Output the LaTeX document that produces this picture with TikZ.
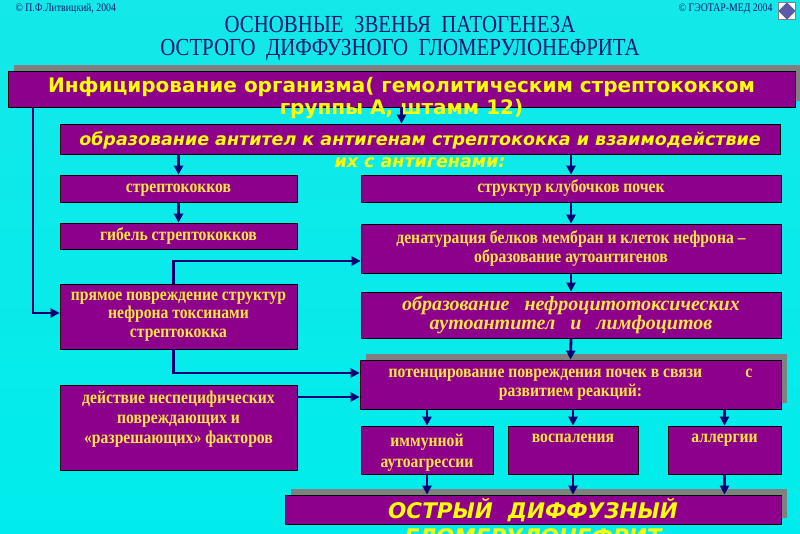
\documentclass[tikz,border=0pt]{standalone}
\usepackage{fontspec}
\setmainfont{Liberation Serif}
\newfontfamily\titlefont[FakeStretch=0.85]{Liberation Serif}
\newfontfamily\boxserif[FakeStretch=0.87]{Liberation Serif}
\newfontfamily\boxsans{DejaVu Sans}
\usetikzlibrary{arrows.meta,shadows}

\definecolor{boxpurple}{RGB}{140,0,140}
\definecolor{goldtext}{RGB}{255,228,70}
\definecolor{brightyellow}{RGB}{255,255,0}
\definecolor{titleblue}{RGB}{20,20,110}
\definecolor{arrownavy}{RGB}{0,0,115}
\definecolor{shadowgrey}{RGB}{128,128,128}
\definecolor{bgtop}{RGB}{20,232,232}
\definecolor{bgmid}{RGB}{195,244,252}
\definecolor{bgbot}{RGB}{0,236,236}

\tikzset{
  box/.style={draw=black, line width=0.8pt, fill=boxpurple, inner sep=0pt},
  shadowbox/.style={box, drop shadow={shadow xshift=6pt, shadow yshift=6pt, fill=shadowgrey, opacity=1}},
  seriftext/.style={text=goldtext, align=center, font=\boxserif\bfseries\fontsize{18}{18.5}\selectfont},
  oneline/.style={text height=10pt, text depth=2pt},
  sanstext/.style={text=brightyellow, align=center, inner sep=0pt},
  arr/.style={draw=arrownavy, line width=2.8pt, -{Triangle[length=9pt,width=9pt]}}
}

\begin{document}
\begin{tikzpicture}[x=1pt, y=-1pt]

    % Background
    \clip (0,0) rectangle (800,533);
    \shade[top color=bgtop, middle color=bgmid, bottom color=bgbot] (0,0) rectangle (800,533);

    % Captions and title
    \node[anchor=west, text=titleblue, font=\titlefont\fontsize{11.5}{12}\selectfont] (lefttag) at (12,9) {© П.Ф.Литвицкий, 2004};
    \node[anchor=east, text=titleblue, font=\titlefont\fontsize{11.5}{12}\selectfont] (righttag) at (776,9) {© ГЭОТАР-МЕД 2004};
    \node[draw=shadowgrey, fill=white, minimum size=17pt, inner sep=0pt] (icon) at (787,11) {};
    \fill[shadowgrey!70!blue] (icon.north) -- (icon.east) -- (icon.south) -- (icon.west) -- cycle;
    \node[text=titleblue, align=center, font=\titlefont\fontsize{24.5}{23}\selectfont] (title) at (400,38.5)
        {ОСНОВНЫЕ~~ЗВЕНЬЯ~~ПАТОГЕНЕЗА\\ОСТРОГО~~ДИФФУЗНОГО~~ГЛОМЕРУЛОНЕФРИТА};

    % Boxes
    \node[shadowbox, minimum width=787pt, minimum height=36pt] (infect) at (401.5,89) {};
    \node[box, minimum width=720pt, minimum height=30pt] (antibody) at (420,139) {};
    \node[box, seriftext, oneline, minimum width=237pt, minimum height=27pt] (strep) at (178.5,188.5) {стрептококков};
    \node[box, seriftext, oneline, minimum width=420pt, minimum height=27pt] (glomer) at (571,188.5) {структур клубочков почек};
    \node[box, seriftext, oneline, minimum width=237pt, minimum height=26pt] (death) at (178.5,236) {гибель стрептококков};
    \node[box, seriftext, minimum width=420pt, minimum height=49pt] (denat) at (571,248.5)
        {денатурация белков мембран и клеток нефрона –\\образование аутоантигенов};
    \node[box, seriftext, minimum width=237pt, minimum height=65pt] (direct) at (178.5,316.5)
        {прямое повреждение структур\\нефрона токсинами\\стрептококка};
    \node[box, seriftext, font=\rmfamily\bfseries\itshape\fontsize{20}{19}\selectfont, minimum width=420pt, minimum height=46pt] (autoab) at (571,315)
        {образование~~~нефроцитотоксических\\аутоантител~~~и~~~лимфоцитов};
    \node[shadowbox, seriftext, minimum width=421pt, minimum height=49pt] (potent) at (570.5,384.5)
        {потенцирование повреждения почек в связи\hspace{2.4em}с\\развитием реакций:};
    \node[box, minimum width=237pt, minimum height=85pt] (nonspec) at (178.5,427.5) {};
    \node[box, minimum width=132pt, minimum height=48pt] (immune) at (427,450) {};
    \node[box, minimum width=130pt, minimum height=48pt] (inflam) at (573,450) {};
    \node[box, minimum width=113pt, minimum height=48pt] (allerg) at (724.5,450) {};
    \node[shadowbox, minimum width=496pt, minimum height=29pt] (acute) at (533,509.5) {};

    % Texts on top of boxes
    \node[sanstext, font=\boxsans\bfseries\fontsize{20}{22}\selectfont] (infecttext) at (401.5,98.5)
        {Инфицирование организма( гемолитическим стрептококком\\группы А, штамм 12)};
    \node[sanstext, font=\boxsans\bfseries\itshape\fontsize{17.5}{22}\selectfont] (antibodytext) at (420,150)
        {образование антител к антигенам стрептококка и взаимодействие\\их с антигенами:};
    \node[seriftext, anchor=north, font=\boxserif\bfseries\fontsize{18}{20}\selectfont] (nonspectext) at ([yshift=-3pt]nonspec.north)
        {действие неспецифических\\повреждающих и\\«разрешающих» факторов};
    \node[seriftext, anchor=north, font=\boxserif\bfseries\fontsize{18}{21}\selectfont] (immunetext) at ([yshift=-5pt]immune.north)
        {иммунной\\аутоагрессии};
    \node[seriftext, anchor=north] (inflamtext) at ([yshift=-5pt]inflam.north) {воспаления};
    \node[seriftext, anchor=north] (allergtext) at ([yshift=-5pt]allerg.north) {аллергии};
    \node[sanstext, font=\boxsans\bfseries\itshape\fontsize{21.5}{26}\selectfont] (acutetext) at (533,522)
        {ОСТРЫЙ~~ДИФФУЗНЫЙ\\ГЛОМЕРУЛОНЕФРИТ};

    % Arrows down the two columns
    \coordinate (leftrail) at (33,0);
    \draw[arr] (infect.south) -- (infect.south |- antibody.north);
    \draw[arr] (strep.north |- antibody.south) -- (strep.north);
    \draw[arr] (glomer.north |- antibody.south) -- (glomer.north);
    \draw[arr] (strep.south) -- (death.north);
    \draw[arr] (glomer.south) -- (denat.north);
    \draw[arr] (denat.south) -- (autoab.north);
    \draw[arr] (autoab.south) -- (potent.north);

    % Side connections
    \draw[arr] (infect.south -| leftrail) |- ([yshift=3.5pt]direct.west);
    \draw[arr] ([xshift=-5pt]direct.north) |- ([yshift=-12.5pt]denat.west);
    \draw[arr] ([xshift=-5pt]direct.south) |- ([yshift=11.5pt]potent.west);
    \draw[arr] ([yshift=-12.5pt]potent.west -| nonspec.east) -- ([yshift=-12.5pt]potent.west);

    % Reactions
    \foreach \r in {immune, inflam, allerg} {
        \draw[arr] (\r.north |- potent.south) -- (\r.north);
        \draw[arr] (\r.south) -- (\r.south |- acute.north);
    }

\end{tikzpicture}
\end{document}
